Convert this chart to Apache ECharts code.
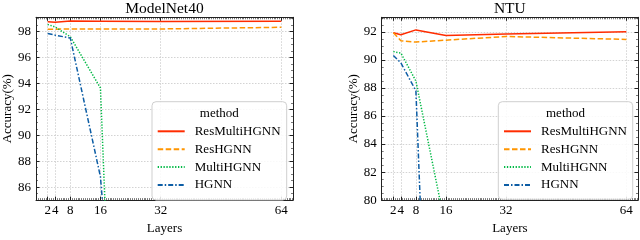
<!DOCTYPE html>
<html>
<head>
<meta charset="utf-8">
<script src="https://cdn.jsdelivr.net/npm/echarts@6/dist/echarts.min.js"></script>
<style>
html,body{margin:0;padding:0;background:#fff;}
#c{width:640px;height:240px;}
</style>
</head>
<body>
<div id="c"></div>
<script>
// ---------- data ----------
const seriesNames = ['ResMultiHGNN', 'ResHGNN', 'MultiHGNN', 'HGNN'];
const layers = [2, 4, 8, 16, 32, 64];
const xTickValues = [2, 4, 8, 16, 32, 64];

// ModelNet40
const mnResMulti = [98.75, 98.72, 98.82, 98.8, 98.78, 98.8];
const mnRes = [98.18, 98.18, 98.2, 98.2, 98.2, 98.33];
const mnMultiLayers = [2, 4, 8, 16, 17, 18];
const mnMulti = [98.55, 98.35, 97.6, 93.65, 86.3, 79.0];
const mnHgnn = [97.85, 97.72, 97.5, 86.8, 30.0, 20.0];
const mnYTicks = [86, 88, 90, 92, 94, 96, 98];

// NTU
const ntuResMulti = [91.95, 91.8, 92.15, 91.75, 91.85, 92.02];
const ntuRes = [91.95, 91.38, 91.28, 91.42, 91.68, 91.47];
const ntuMulti = [90.6, 90.5, 88.5, 77.9, 60.0, 50.0];
const ntuHgnn = [90.32, 89.8, 87.8, 33.0, 20.0, 15.0];
const ntuYTicks = [80, 82, 84, 86, 88, 90, 92];

// ---------- layout / style ----------
const FONT = 'Liberation Serif';
const X_MIN = -1.1, X_MAX = 67.1;
const panels = [
  { title: 'ModelNet40', left: 36, width: 257, yMin: 85, yMax: 99.1, yTicks: mnYTicks,
    data: [[layers, mnResMulti], [layers, mnRes], [mnMultiLayers, mnMulti], [layers, mnHgnn]],
    box: [152, 101.7, 134.7, 98.3] },
  { title: 'NTU', left: 381.7, width: 256.3, yMin: 80, yMax: 93.05, yTicks: ntuYTicks,
    data: [[layers, ntuResMulti], [layers, ntuRes], [layers, ntuMulti], [layers, ntuHgnn]],
    box: [498.3, 101.7, 134.4, 97.6] }
];
const TOP = 17.3, HEIGHT = 188.4;
const colors = ['#FF2C00', '#FF9500', '#00B945', '#0C5DA5'];
const lineTypes = ['solid', [5.5, 2.5], [1.3, 1.6], [5, 2, 1.5, 2]];

function range(a, b, step) { const r = []; for (let v = a; v <= b + 1e-9; v += step) r.push(+v.toFixed(3)); return r; }
const xMinor = range(-1, 67, 0.5);

const grids = [], xAxes = [], yAxes = [], series = [], legends = [], graphics = [];
const axisLineStyle = { color: '#222', width: 1 };
const gridLineStyle = { color: '#c8c8c8', type: [1.5, 1.5], width: 0.8 };

panels.forEach((p, g) => {
  grids.push({ left: p.left, top: TOP, width: p.width, height: HEIGHT, containLabel: false });
  const yMinor = range(p.yMin, p.yMax, 0.5);
  const baseX = { type: 'value', gridIndex: g, min: X_MIN, max: X_MAX, splitLine: { show: false },
    axisLine: { show: false, onZero: false }, axisLabel: { show: false } };
  xAxes.push(Object.assign({}, baseX, {
    position: 'bottom',
    axisLine: { show: true, onZero: false, lineStyle: axisLineStyle },
    axisTick: { show: true, inside: true, length: 3.5, customValues: xTickValues, lineStyle: axisLineStyle },
    axisLabel: { show: true, customValues: xTickValues, margin: 4, fontFamily: FONT, fontSize: 13, color: '#000' },
    splitLine: { show: true, lineStyle: gridLineStyle },
    name: 'Layers', nameLocation: 'middle', nameGap: 20,
    nameTextStyle: { fontFamily: FONT, fontSize: 13, color: '#000' }
  }));
  xAxes.push(Object.assign({}, baseX, { position: 'bottom',
    axisTick: { show: true, inside: true, length: 2, customValues: xMinor, lineStyle: { color: '#222', width: 0.6 } } }));
  xAxes.push(Object.assign({}, baseX, { position: 'top',
    axisLine: { show: true, onZero: false, lineStyle: axisLineStyle },
    axisTick: { show: true, inside: true, length: 3.5, customValues: xTickValues, lineStyle: axisLineStyle } }));
  xAxes.push(Object.assign({}, baseX, { position: 'top',
    axisTick: { show: true, inside: true, length: 2, customValues: xMinor, lineStyle: { color: '#222', width: 0.6 } } }));

  const baseY = { type: 'value', gridIndex: g, min: p.yMin, max: p.yMax, splitLine: { show: false },
    axisLine: { show: false, onZero: false }, axisLabel: { show: false } };
  yAxes.push(Object.assign({}, baseY, {
    position: 'left',
    axisLine: { show: true, onZero: false, lineStyle: axisLineStyle },
    axisTick: { show: true, inside: true, length: 3.5, customValues: p.yTicks, lineStyle: axisLineStyle },
    axisLabel: { show: true, customValues: p.yTicks, margin: 5, fontFamily: FONT, fontSize: 13, color: '#000' },
    splitLine: { show: true, lineStyle: gridLineStyle },
    name: 'Accuracy(%)', nameLocation: 'middle', nameGap: 22,
    nameTextStyle: { fontFamily: FONT, fontSize: 13, color: '#000' }
  }));
  yAxes.push(Object.assign({}, baseY, { position: 'left',
    axisTick: { show: true, inside: true, length: 2, customValues: yMinor, lineStyle: { color: '#222', width: 0.6 } } }));
  yAxes.push(Object.assign({}, baseY, { position: 'right',
    axisLine: { show: true, onZero: false, lineStyle: axisLineStyle },
    axisTick: { show: true, inside: true, length: 3.5, customValues: p.yTicks, lineStyle: axisLineStyle } }));
  yAxes.push(Object.assign({}, baseY, { position: 'right',
    axisTick: { show: true, inside: true, length: 2, customValues: yMinor, lineStyle: { color: '#222', width: 0.6 } } }));

  p.data.forEach((d, i) => {
    series.push({
      type: 'line', name: seriesNames[i], xAxisIndex: 4 * g, yAxisIndex: 4 * g,
      data: d[0].map((x, k) => [x, d[1][k]]),
      symbol: 'none', clip: true, z: 2,
      lineStyle: { color: colors[i], width: 1.5, type: lineTypes[i] },
      itemStyle: { color: colors[i] }
    });
  });

  const [bx, by, bw, bh] = p.box;
  graphics.push({ type: 'rect', z: 3, shape: { x: bx, y: by, width: bw, height: bh, r: 4 },
    style: { fill: 'rgba(255,255,255,0.85)', stroke: '#cfcfcf', lineWidth: 1 } });
  graphics.push({ type: 'text', z: 4, x: bx + bw / 2, y: 113.3,
    style: { text: 'method', fontFamily: FONT, fontSize: 13, fill: '#000', align: 'center', verticalAlign: 'middle' } });
  graphics.push({ type: 'text', z: 4, x: p.left + p.width / 2, y: 8.5,
    style: { text: p.title, fontFamily: FONT, fontSize: 15.5, fill: '#000', align: 'center', verticalAlign: 'middle' } });

  legends.push({
    data: seriesNames, orient: 'vertical', left: bx + 4.7, top: 124.8, padding: 0,
    itemWidth: 27, itemHeight: 14, itemGap: 4.9, z: 5, selectedMode: false,
    itemStyle: { opacity: 0, borderWidth: 0 },
    textStyle: { fontFamily: FONT, fontSize: 13, color: '#000', padding: [0, 0, 0, 5] }
  });
});

const chart = echarts.init(document.getElementById('c'), null, { renderer: 'canvas' });
chart.setOption({
  animation: false,
  backgroundColor: '#fff',
  grid: grids, xAxis: xAxes, yAxis: yAxes, series: series, legend: legends, graphic: graphics
});
</script>
</body>
</html>
